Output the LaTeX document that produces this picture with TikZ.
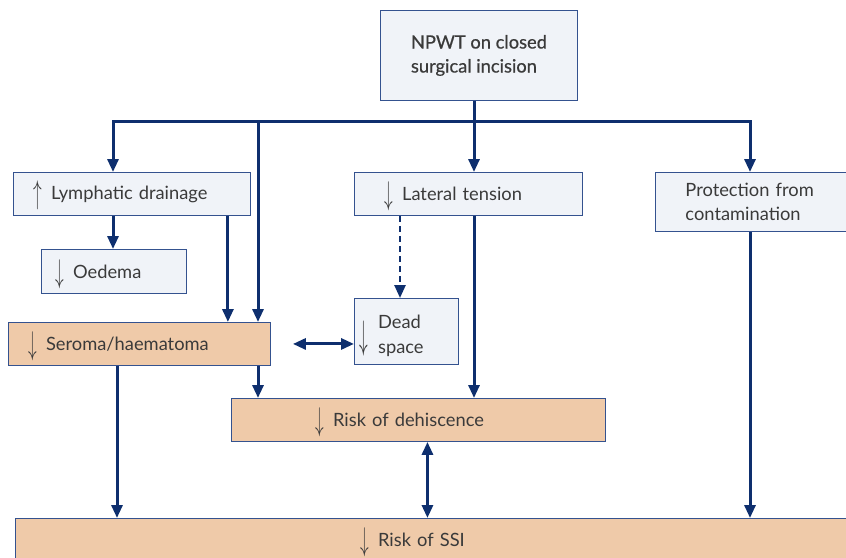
\documentclass[tikz,border=0pt]{standalone}
\usepackage{fontspec}
\setmainfont{Lato}
\newfontfamily\headfont[FakeBold=0.6]{Lato}
\usepackage{graphicx}
\usetikzlibrary{arrows.meta,positioning}
\definecolor{navy}{HTML}{0E2F6E}
\definecolor{boxline}{HTML}{34528F}
\definecolor{paleblue}{HTML}{F0F3F8}
\definecolor{peach}{HTML}{EFCAA9}
\definecolor{txtgray}{HTML}{3A3A3A}
\newcommand{\decr}{\smash{\raisebox{-4pt}{\scalebox{1}[1.9]{$\downarrow$}}}\hspace{9pt}}
\newcommand{\incr}{\smash{\raisebox{-4pt}{\scalebox{1}[1.9]{$\uparrow$}}}\hspace{9pt}}

\begin{document}
\begin{tikzpicture}[x=1pt,y=-1pt,
	effect/.style={draw=boxline,line width=0.9pt,fill=paleblue,text=txtgray,
		font=\fontsize{18.3}{24}\selectfont,inner ysep=0pt,anchor=north west,align=left},
	outcome/.style={effect,fill=peach},
	wire/.style={navy,line width=3pt},
	link/.style={wire,-{Triangle[length=13pt,width=11pt]}},
	both/.style={wire,{Triangle[length=13pt,width=11pt]}-{Triangle[length=13pt,width=11pt]}}]
	\path[use as bounding box,clip] (0,0) rectangle (846,557);

	\node[effect,minimum width=197pt,minimum height=90pt,inner xsep=0pt,
		font=\headfont\fontsize{18.3}{24}\selectfont] (npwt) at (380,10) {NPWT on closed\\surgical incision};
	\node[effect,minimum height=43pt,inner xsep=20pt,text width=197pt] (lymph) at (13,172) {\incr Lymphatic drainage};
	\node[effect,minimum height=44pt,inner xsep=14pt,text width=117pt] (oedema) at (41,249) {\decr Oedema};
	\node[effect,minimum height=43pt,inner xsep=30pt,text width=168pt] (lateral) at (354,172) {\decr Lateral tension};
	\node[effect,minimum height=59pt,inner xsep=30pt,text width=135pt] (protect) at (655,172) {Protection from\\contamination};
	\node[outcome,minimum height=43pt,inner xsep=20pt,text width=222pt] (seroma) at (8,322) {\decr Seroma/haematoma};
	\node[effect,minimum height=66pt,inner xsep=5pt,text width=94pt,font=\fontsize{18.3}{25}\selectfont] (dead) at (354,298)
		{\smash{\raisebox{-17.5pt}{\scalebox{1}[2.3]{$\downarrow$}}}\hspace{10pt}\smash{\raisebox{-9pt}{\begin{tabular}{@{}l@{}}Dead\\space\end{tabular}}}};
	\node[outcome,minimum height=43pt,inner xsep=84pt,text width=206pt] (dehisc) at (231,398) {\decr Risk of dehiscence};
	\node[outcome,minimum height=42pt,inner xsep=345pt,text width=145pt] (ssi) at (15,518) {\decr Risk of SSI};

	% bus under the NPWT box
	\coordinate (split) at (474,121);
	\coordinate (busL) at (113,121);
	\coordinate (busR) at (750,121);
	\coordinate (tapS) at (258,121);
	\draw[wire] (split |- npwt.south) -- (split);
	\draw[wire,line cap=rect] (busL) -- (busR);

	\draw[link] (busL) -- (lymph.north -| busL);
	\draw[link] (split) -- (lateral.north -| split);
	\draw[link] (busR) -- (protect.north -| busR);
	\draw[link] (tapS) -- (seroma.north -| tapS);

	\draw[link] (lymph.south -| busL) -- (oedema.north -| busL);
	\draw[link] ([xshift=-23pt]lymph.south east) -- ([xshift=-23pt]lymph.south east |- seroma.north);
	\draw[link,line width=2.5pt,dash pattern=on 6pt off 4pt] ([xshift=46pt]lateral.south west) -- ([xshift=46pt]lateral.south west |- dead.north);
	\draw[link] (lateral.south -| split) -- (dehisc.north -| split);

	\draw[both] ([xshift=22pt]seroma.east) -- (seroma.east -| dead.west);
	\draw[link] (seroma.south -| tapS) -- (dehisc.north -| tapS);
	\draw[link] ([xshift=109pt]seroma.south west) -- ([xshift=109pt]seroma.south west |- ssi.north);
	\draw[both] ([xshift=9pt]dehisc.south) -- ([xshift=9pt]dehisc.south |- ssi.north);
	\draw[link] (protect.south -| busR) -- (ssi.north -| busR);
\end{tikzpicture}
\end{document}
